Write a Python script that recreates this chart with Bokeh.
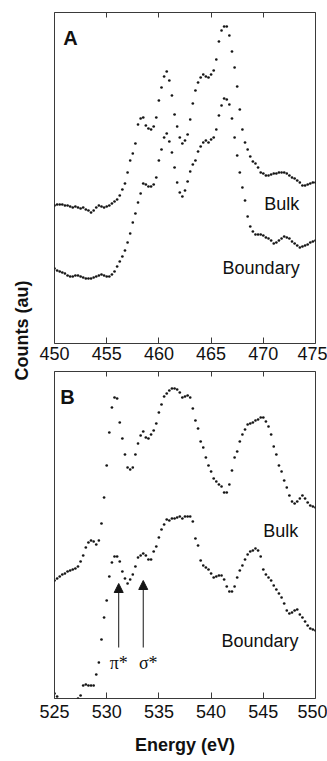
import numpy as np
from bokeh.plotting import figure
from bokeh.layouts import row, column
from bokeh.models import Range1d, LinearAxis, FixedTicker, Label, Arrow, NormalHead, ColumnDataSource
from bokeh.embed import file_html
from bokeh.resources import INLINE

# ---------------- data ----------------
ticks_a = [450, 455, 460, 465, 470, 475]
ticks_b = [525, 530, 535, 540, 545, 550]
step = 0.25
energy_a = 450 + step * np.arange(101)
energy_b = 525 + step * np.arange(101)

bulk_a = [138, 139, 139, 139, 138, 138, 137, 136, 137, 136,
          135, 136, 134, 133, 131, 133, 136, 138, 137, 136,
          137, 138, 140, 142, 144, 148, 154, 160, 171, 183,
          190, 200, 219, 225, 226, 218, 215, 214, 217, 226,
          243, 256, 267, 272, 263, 248, 229, 217, 206, 200,
          203, 209, 224, 240, 253, 261, 266, 269, 267, 266,
          269, 273, 284, 302, 313, 317, 317, 308, 292, 276,
          257, 234, 214, 201, 194, 187, 182, 180, 176, 171,
          170, 168, 168, 169, 170, 170, 171, 171, 171, 170,
          168, 166, 165, 163, 161, 158, 158, 159, 160, 161,
          161]
boundary_a = [75, 73, 72, 71, 70, 68, 67, 67, 68, 68,
              67, 66, 65, 65, 65, 66, 67, 68, 69, 68,
              67, 67, 69, 72, 77, 82, 87, 93, 101, 110,
              121, 130, 141, 150, 160, 159, 157, 157, 159, 166,
              183, 194, 206, 210, 202, 191, 176, 161, 151, 147,
              153, 162, 172, 179, 183, 192, 197, 201, 203, 201,
              204, 206, 214, 228, 238, 245, 244, 239, 225, 206,
              188, 171, 156, 143, 127, 117, 112, 109, 109, 109,
              108, 106, 105, 103, 100, 101, 103, 105, 107, 106,
              105, 102, 100, 98, 96, 97, 98, 99, 101, 102,
              103]
bulk_b = [118, 120, 122, 124, 125, 127, 128, 129, 130, 132,
          137, 143, 151, 156, 158, 157, 154, 158, 175, 201,
          233, 266, 291, 301, 300, 276, 260, 244, 231, 229,
          231, 244, 255, 263, 267, 261, 260, 264, 268, 275,
          286, 294, 302, 305, 308, 310, 310, 309, 306, 301,
          302, 303, 301, 290, 278, 270, 257, 251, 241, 233,
          227, 220, 217, 214, 212, 206, 206, 214, 228, 241,
          247, 257, 264, 269, 274, 275, 276, 278, 279, 281,
          281, 277, 272, 264, 252, 244, 233, 227, 218, 211,
          203, 197, 195, 197, 200, 203, 200, 196, 193, 192,
          191]
boundary_b = [5, 2, -2, -3, -3, -3, -3, -3, -2, 0,
              3, 13, 14, 13, 13, 13, 24, 36, 59, 81,
              98, 122, 136, 142, 142, 137, 127, 120, 115, 119,
              124, 132, 141, 143, 145, 143, 139, 139, 147, 152,
              161, 169, 174, 179, 178, 180, 180, 181, 182, 180,
              182, 182, 182, 177, 160, 153, 138, 133, 131, 129,
              125, 121, 122, 123, 123, 119, 112, 107, 107, 112,
              121, 128, 133, 139, 144, 147, 148, 150, 148, 142,
              129, 124, 121, 118, 113, 109, 105, 101, 95, 88,
              85, 86, 88, 89, 84, 81, 77, 73, 70, 69,
              68]

peak_energy = [531.15, 533.5]
peak_labels = ["π*", "σ*"]

INK = "#151515"
FRAME = "#3a3a3a"


def panel(xr, yr, ticks, width, height, btop, bbottom, standoff):
    p = figure(width=width, height=height, x_range=Range1d(*xr), y_range=Range1d(*yr),
               output_backend="svg", toolbar_location=None, y_axis_location=None,
               title_location=None,
               min_border_left=16, min_border_right=12,
               min_border_top=btop, min_border_bottom=bbottom)
    p.xgrid.visible = False
    p.ygrid.visible = False
    p.outline_line_color = FRAME
    p.outline_line_width = 1
    p.background_fill_color = "white"
    p.border_fill_color = "white"
    ax = p.below[0]
    ax.ticker = FixedTicker(ticks=ticks)
    ax.axis_line_color = None
    ax.major_tick_in = 6
    ax.major_tick_out = 0
    ax.major_tick_line_color = FRAME
    ax.minor_tick_line_color = None
    ax.major_label_text_font = "Liberation Sans"
    ax.major_label_text_font_size = "18px"
    ax.major_label_text_color = "#111111"
    ax.major_label_standoff = standoff
    top = LinearAxis(ticker=FixedTicker(ticks=ticks), major_label_text_font_size="0px",
                     major_label_text_color=None,
                     major_label_standoff=0, axis_line_color=None, major_tick_in=5,
                     major_tick_out=0, minor_tick_line_color=None,
                     major_tick_line_color=FRAME)
    p.add_layout(top, "above")
    return p, ax


def text(p, x, y, s, size="18px", bold=False, font="Liberation Sans"):
    p.add_layout(Label(x=x, y=y, text=s, text_font=font, text_font_size=size,
                       text_font_style="bold" if bold else "normal",
                       text_color="#111111", text_align="left",
                       text_baseline="alphabetic"))


# ---------------- panel A ----------------
pa, axa = panel((450, 475), (0, 331), ticks_a, 289, 368, 12, 25, 3)
src_a = ColumnDataSource(dict(e=energy_a, bulk=bulk_a, bnd=boundary_a))
pa.scatter("e", "bulk", source=src_a, size=2.7, fill_color=INK, line_color=None)
pa.scatter("e", "bnd", source=src_a, size=2.7, fill_color=INK, line_color=None)
text(pa, 450.85, 306, "A", size="20px", bold=True)
text(pa, 470.1, 140, "Bulk")
text(pa, 466.1, 76, "Boundary")

# ---------------- panel B ----------------
pb, axb = panel((525, 550), (0, 327), ticks_b, 289, 393, 3, 63, 6)
src_b = ColumnDataSource(dict(e=energy_b, bulk=bulk_b, bnd=boundary_b))
pb.scatter("e", "bulk", source=src_b, size=2.7, fill_color=INK, line_color=None)
pb.scatter("e", "bnd", source=src_b, size=2.7, fill_color=INK, line_color=None)
text(pb, 525.55, 302, "B", size="20px", bold=True)
text(pb, 545.0, 168, "Bulk")
text(pb, 541.0, 58, "Boundary")
axb.axis_label = "Energy (eV)"
axb.axis_label_text_font = "Liberation Sans"
axb.axis_label_text_font_size = "18px"
axb.axis_label_text_font_style = "bold"
axb.axis_label_text_color = "#111111"
axb.axis_label_standoff = 14

tips = [115, 118]
label_shift = [0, 5]
for e, tip, lab, dx in zip(peak_energy, tips, peak_labels, label_shift):
    pb.add_layout(Arrow(end=NormalHead(size=9, fill_color=INK, line_color=INK, line_width=1),
                        x_start=e, y_start=51, x_end=e, y_end=tip,
                        line_color=INK, line_width=1))
    pb.add_layout(Label(x=e, y=36, x_offset=dx, text=lab, text_font="Liberation Serif",
                        text_font_size="18px", text_color="#111111",
                        text_align="center", text_baseline="alphabetic"))

# ---------------- shared y label ----------------
pl = figure(width=38, height=761, x_range=Range1d(0, 38), y_range=Range1d(0, 761),
            output_backend="svg", toolbar_location=None, x_axis_location=None,
            y_axis_location=None, title_location=None, min_border=0)
pl.xgrid.visible = False
pl.ygrid.visible = False
pl.outline_line_color = None
pl.add_layout(Label(x=21, y=431, text="Counts (au)", angle=np.pi / 2,
                    text_font="Liberation Sans", text_font_size="18px",
                    text_font_style="bold", text_color="#111111",
                    text_align="center", text_baseline="middle"))

layout = row(pl, column(pa, pb))
open("out.html", "w").write(file_html(layout, INLINE))
